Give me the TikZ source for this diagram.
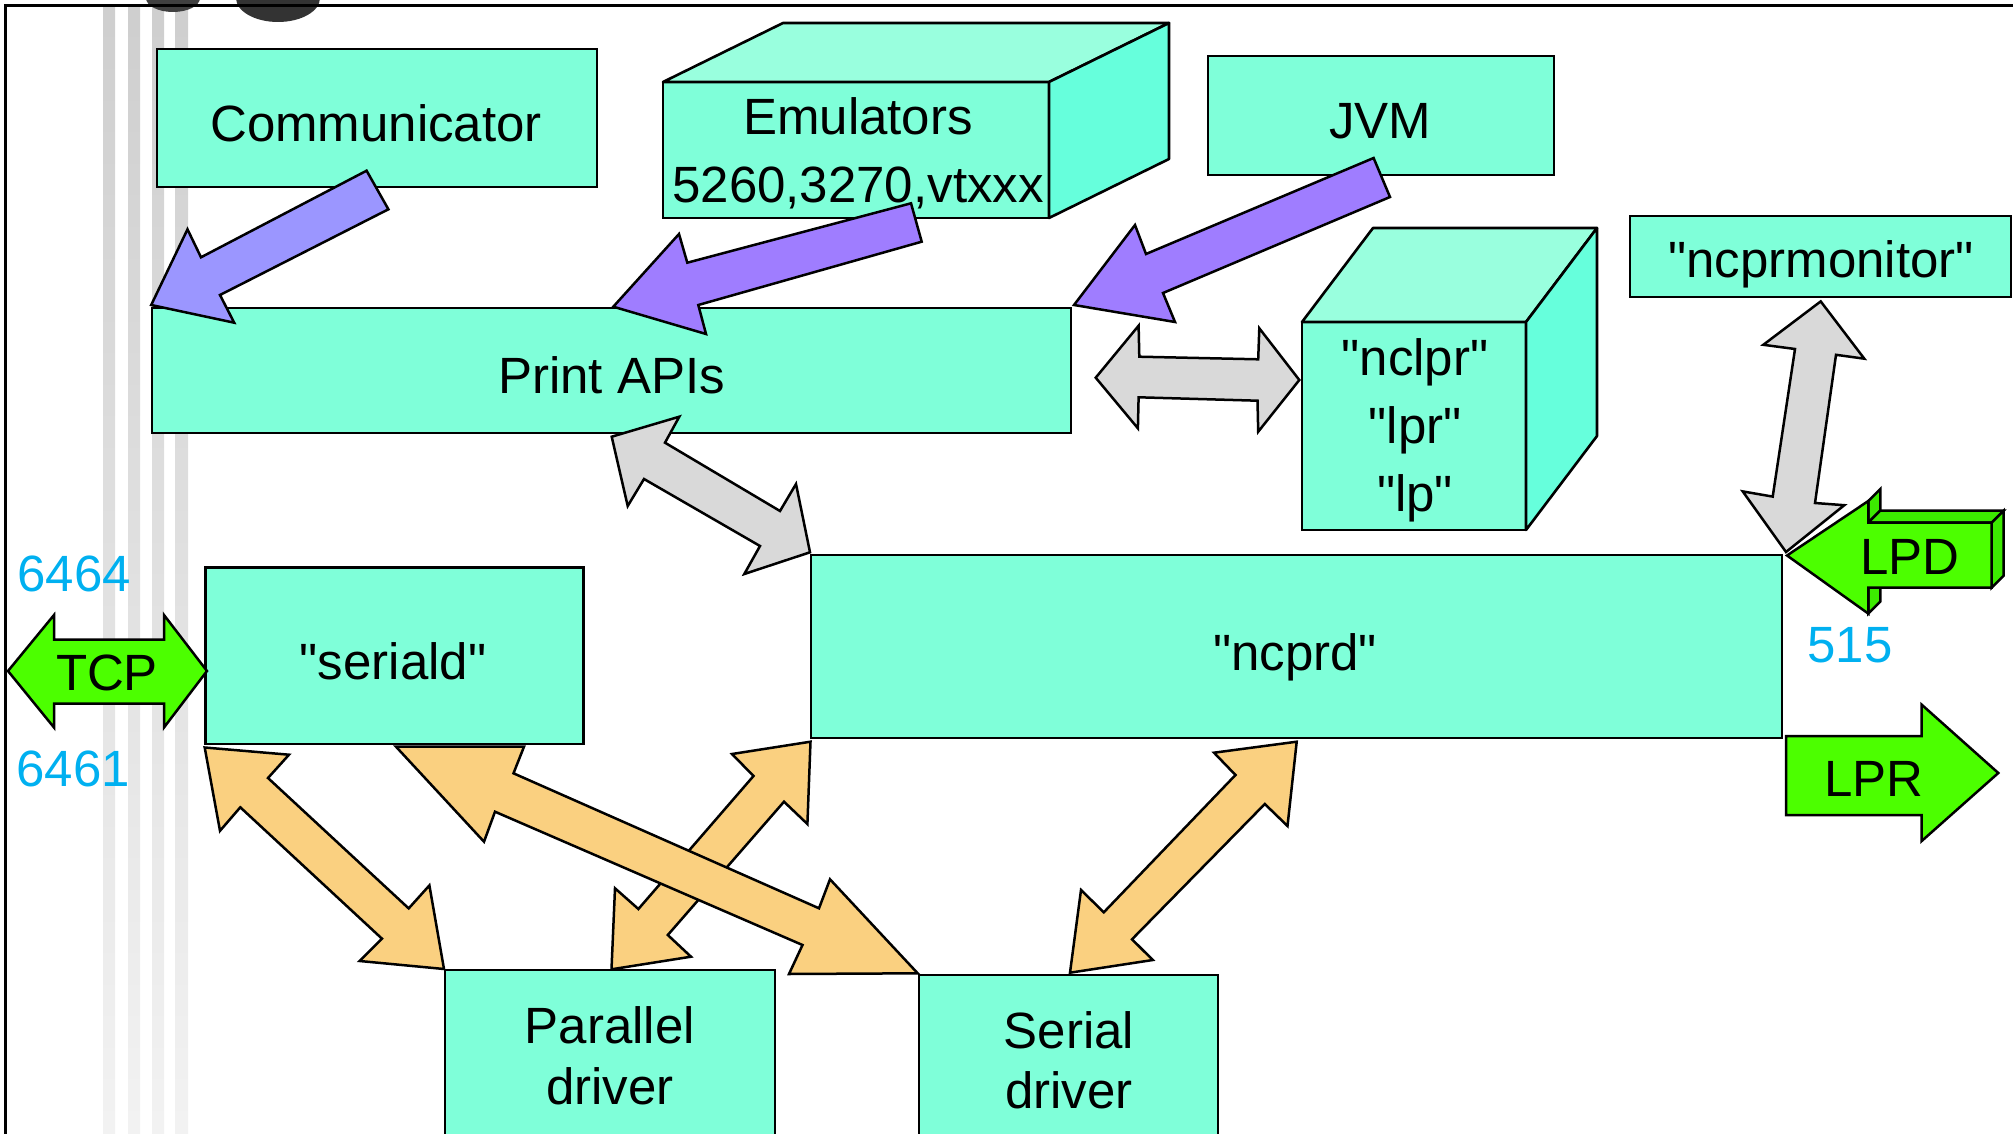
\documentclass[tikz,border=0pt]{standalone}
\usepackage{fontspec}
\newfontfamily\lsans{Liberation Sans}
\usetikzlibrary{fit}
\definecolor{boxc}{RGB}{127,255,217}
\definecolor{topc}{RGB}{153,255,222}
\definecolor{sidec}{RGB}{102,255,220}
\definecolor{commc}{RGB}{155,150,255}
\definecolor{purpc}{RGB}{159,125,255}
\definecolor{grayc}{RGB}{217,217,217}
\definecolor{orc}{RGB}{250,208,128}
\definecolor{grnc}{RGB}{76,255,0}
\definecolor{grnside}{RGB}{60,235,0}
\definecolor{numc}{RGB}{0,176,240}
\begin{document}
\begin{tikzpicture}[x=0.5pt,y=-0.5pt,
  box/.style={draw=black,line width=1.3pt,fill=boxc,inner sep=0pt,outer sep=0pt},
  face/.style={draw=black,line width=1.3pt,line join=round},
  lbl/.style={anchor=base,inner sep=0pt,font=\lsans\fontsize{25.5pt}{30pt}\selectfont},
  num/.style={lbl,text=numc},
  blk/.style={draw=black,line width=1.25pt,line join=miter}]
\useasboundingbox (0,0) rectangle (2013,1134);
\clip (0,0) rectangle (2013,1134);
% background stripes and blob
\foreach \a/\b in {103/115,128/140,152/164,175/188}
  \shade[top color=black!19,bottom color=black!5] (\a,7) rectangle (\b,1134);
\fill[black!75] (173,-2) ellipse [x radius=27,y radius=14];
\fill[black!80] (278,-2) ellipse [x radius=42,y radius=24];
\draw[line width=1.5pt] (5,6) rectangle (2100,1200);
% boxes
\node[box,fit={(157,49)(597,187)}] (comm) {};
\node[box,fit={(152,308)(1071,433)}] (api) {};
\node[box,fit={(663,82)(1049,218)}] (emu) {};
\node[box,fit={(1208,56)(1554,175)}] (jvm) {};
\node[box,fit={(1302,322)(1526,530)}] (nclpr) {};
\node[box,fit={(1630,216)(2011,297)}] (mon) {};
\node[box,fit={(811,555)(1782,738)}] (ncprd) {};
\node[box,fit={(205.5,567.5)(583.6,744)}] (seriald) {};
\node[box,fit={(445,970)(775,1160)}] (par) {};
\node[box,fit={(919,975)(1218,1160)}] (ser) {};
% 3D faces
\filldraw[face,fill=topc] (emu.north west) -- ++(120,-59) -- ([shift={(120,-59)}]emu.north east) -- (emu.north east) -- cycle;
\filldraw[face,fill=sidec] (emu.north east) -- ++(120,-59) -- ([shift={(120,-59)}]emu.south east) -- (emu.south east) -- cycle;
\filldraw[face,fill=topc] (nclpr.north west) -- ++(71,-94) -- ([shift={(71,-94)}]nclpr.north east) -- (nclpr.north east) -- cycle;
\filldraw[face,fill=sidec] (nclpr.north east) -- ++(71,-94) -- ([shift={(71,-94)}]nclpr.south east) -- (nclpr.south east) -- cycle;
% box texts
\node[lbl] (tcomm) at (376,142) {Communicator};
\node[lbl] (temu1) at (858,135) {Emulators};
\node[lbl] (temu2) at (858,203) {5260,3270,vtxxx};
\node[lbl] (tjvm) at (1380,139) {JVM};
\node[lbl] (tapi) at (611.5,393) {Print APIs};
\node[lbl] (tnc1) at (1415,375) {"nclpr"};
\node[lbl] (tnc2) at (1415,443) {"lpr"};
\node[lbl] (tnc3) at (1415,511) {"lp"};
\node[lbl] (tmon) at (1821,278) {"ncprmonitor"};
\node[lbl] (tncprd) at (1295,670) {"ncprd"};
\node[lbl] (tserd) at (393,679) {"seriald"};
\node[lbl] (tpar1) at (610,1043) {Parallel};
\node[lbl] (tpar2) at (610,1104) {driver};
\node[lbl] (tser1) at (1069,1048) {Serial};
\node[lbl] (tser2) at (1069,1108) {driver};
\node[num,anchor=base west] (p6464) at (17,591) {6464};
\node[num,anchor=base west] (p6461) at (16,786) {6461};
\node[num] (p515) at (1850,662) {515};
% gray double arrows
\filldraw[blk,fill=grayc] (611.7,436.7) -- (679.3,416.7) -- (665,442.7) -- (780,511) -- (796,484) -- (810,552.3) -- (744.3,574) -- (760,546) -- (644,479) -- (627.7,506) -- cycle;
\filldraw[blk,fill=grayc] (1095.7,377.7) -- (1138.6,325.7) -- (1139.3,356.7) -- (1258.2,359.3) -- (1259.3,328.3) -- (1299.3,380) -- (1258.2,431.7) -- (1257.5,400.7) -- (1138.6,397.3) -- (1137.9,428.3) -- cycle;
\filldraw[blk,fill=grayc] (1820.7,301.4) -- (1864.3,358.7) -- (1836,354.8) -- (1815,503) -- (1844.3,505.2) -- (1786,552) -- (1742.7,491.4) -- (1772.7,496.6) -- (1795,349) -- (1763.3,344.8) -- cycle;
% purple arrows
\filldraw[blk,fill=commc] (151.2,305) -- (187.5,229.3) -- (201,257.3) -- (366.6,170.7) -- (388.4,209.3) -- (220,295) -- (234.2,322.7) -- cycle;
\filldraw[blk,fill=purpc] (613.3,306.7) -- (679,234) -- (687.3,262.7) -- (911,203.3) -- (921.7,241.7) -- (698.3,305) -- (706,334) -- cycle;
\filldraw[blk,fill=purpc] (1074,305) -- (1135,225) -- (1146,254) -- (1373.6,158) -- (1390,197) -- (1163,293) -- (1175,322) -- cycle;
% orange arrows
\filldraw[blk,fill=orc] (204.7,747.5) -- (289,754.7) -- (268,778) -- (408.7,908.4) -- (429.4,885.4) -- (444,969) -- (359.7,961) -- (382,938.7) -- (240.3,807.3) -- (220,830.8) -- cycle;
\filldraw[blk,fill=orc] (611.5,969.3) -- (615,888.3) -- (638.4,909) -- (753.5,776) -- (732,754) -- (810.5,741.7) -- (807.4,824) -- (784,801.7) -- (667.8,935) -- (691,956.7) -- cycle;
\filldraw[blk,fill=orc] (396,746.7) -- (524,746.7) -- (513.5,773.3) -- (819,908.3) -- (830,879.3) -- (917.7,973.3) -- (789,974) -- (802.5,945) -- (495,811.7) -- (484,841.7) -- cycle;
\filldraw[blk,fill=orc] (1296.7,741.7) -- (1287.5,826) -- (1264.8,804) -- (1132,939.3) -- (1152.8,960) -- (1070,972.7) -- (1081,890) -- (1103.8,912.3) -- (1235.5,775) -- (1214,752.7) -- cycle;
% green arrows
\filldraw[blk,fill=grnc] (8,671) -- (54,615) -- (54,639.5) -- (164,639.5) -- (164,615) -- (207,671) -- (164,727.5) -- (164,703.5) -- (54,703.5) -- (54,727.5) -- cycle;
\filldraw[blk,fill=grnc] (1786,736) -- (1921.7,736) -- (1921.7,704.7) -- (1998.3,773) -- (1921.7,841) -- (1921.7,815) -- (1786,815) -- cycle;
\filldraw[blk,fill=grnside] (1868.3,501) -- (1880.3,489) -- (1880.3,510.6) -- (1868.3,522.6) -- cycle;
\filldraw[blk,fill=grnside] (1868.3,522.6) -- (1880.3,510.6) -- (2003.7,510.6) -- (1991.7,522.6) -- cycle;
\filldraw[blk,fill=grnside] (1991.7,522.6) -- (2003.7,510.6) -- (2003.7,575.6) -- (1991.7,587.6) -- cycle;
\filldraw[blk,fill=grnside] (1868.3,587.6) -- (1880.3,575.6) -- (1880.3,601.6) -- (1868.3,613.6) -- cycle;
\filldraw[blk,fill=grnc] (1787,555.5) -- (1868.3,501) -- (1868.3,522.6) -- (1991.7,522.6) -- (1991.7,587.6) -- (1868.3,587.6) -- (1868.3,613.6) -- cycle;
\node[lbl] (ttcp) at (107,690) {TCP};
\node[lbl] (tlpd) at (1910,574) {LPD};
\node[lbl] (tlpr) at (1874,796) {LPR};
\end{tikzpicture}
\end{document}
